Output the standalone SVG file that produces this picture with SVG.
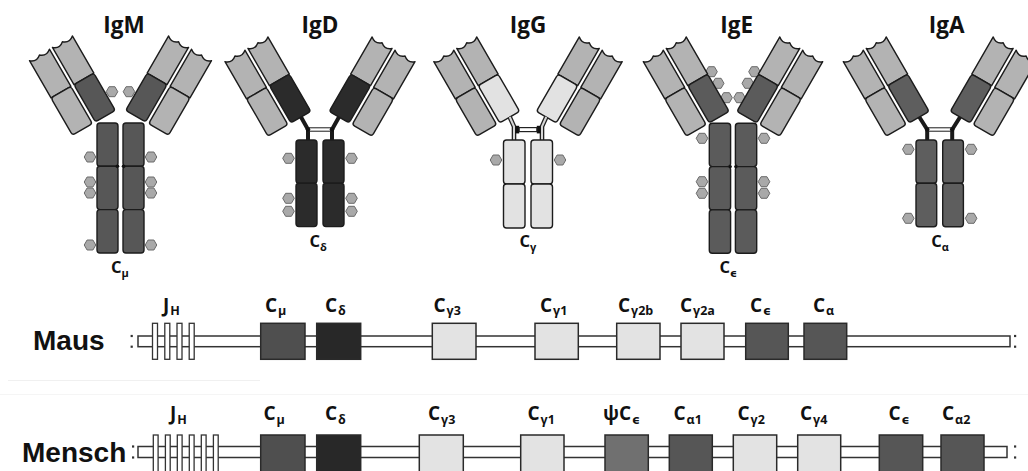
<svg xmlns="http://www.w3.org/2000/svg" xmlns:xlink="http://www.w3.org/1999/xlink" width="1028" height="471" viewBox="0 0 1028 471">
<style>
.d{stroke:#1c1c1c;stroke-width:1.4;stroke-linejoin:round}
.lt{fill:#b3b3b3}
.hx{fill:#a9a9a9;stroke:#6a6a6a;stroke-width:1}
.t{font-family:"Open Sans","DejaVu Sans",sans-serif;font-weight:700;fill:#111}
.ttl{font-size:22.5px;text-anchor:middle}
.ab{font-size:16.5px}
.ab .s{font-size:11px}
.gl{font-size:19px}
.gl .s{font-size:12.5px}
.sp{font-family:"Liberation Sans",Arial,sans-serif;font-weight:700;font-size:28px;fill:#111}
.chr{fill:#fff;stroke:#333;stroke-width:1.5}
.ex{fill:#fff;stroke:#333;stroke-width:1.3}
.gb{stroke:#2a2a2a;stroke-width:1.5}
.dot{fill:#333}
.sd{fill:#111}
</style>
<defs>
  <!-- glycan hexagon -->
  <path id="hx" class="hx" d="M-5.8,0 L-2.9,-5 L2.9,-5 L5.8,0 L2.9,5 L-2.9,5 Z"/>
  <!-- Fab arm, drawn upright: light chain (outer) and heavy chain (inner); CH1 fill comes from the <use> -->
  <g id="arm">
    <path class="d lt" d="M0,0 Q5.75,5 11.5,0 Q17.25,5 23,0 L23,43 L0,43 Z"/>
    <rect class="d lt" x="0" y="43" width="23" height="43" rx="3"/>
    <path class="d lt" d="M26.5,0 Q32.25,5 38,0 Q43.75,5 49.5,0 L49.5,43 L26.5,43 Z"/>
    <rect class="d" x="26.5" y="43" width="23" height="43" rx="3"/>
  </g>

  <!-- left halves of each isotype (mirrored for the right side) -->
  <g id="igm-half" fill="#575757">
    <use xlink:href="#hx" x="-8.5" y="91.7"/>
    <use xlink:href="#arm" transform="translate(-91,60.7) rotate(-30)"/>
    <use xlink:href="#hx" x="-30.5" y="157"/>
    <use xlink:href="#hx" x="-30.5" y="182"/>
    <use xlink:href="#hx" x="-30.5" y="193"/>
    <use xlink:href="#hx" x="-30.5" y="245"/>
    <rect class="d" x="-23.5" y="123" width="21" height="43.3" rx="3"/>
    <rect class="d" x="-23.5" y="166.3" width="21" height="43.3" rx="3"/>
    <rect class="d" x="-23.5" y="209.6" width="21" height="43.4" rx="3"/>
    <circle class="sd" cx="-3" cy="166.3" r="1.8"/>
  </g>

  <g id="igd-half" fill="#2b2b2b">
    <use xlink:href="#arm" transform="translate(-95,61.7) rotate(-30)"/>
    <path d="M-19,117 L-12,129.5 L-12,141" fill="none" stroke="#1a1a1a" stroke-width="4"/>
    <use xlink:href="#hx" x="-31.5" y="158.3"/>
    <use xlink:href="#hx" x="-31.5" y="198.3"/>
    <use xlink:href="#hx" x="-31.5" y="211.3"/>
    <rect class="d" x="-24" y="140" width="21" height="43.3" rx="3"/>
    <rect class="d" x="-24" y="183.3" width="21" height="43.3" rx="3"/>
  </g>

  <g id="igg-half" fill="#e2e2e2">
    <use xlink:href="#arm" transform="translate(-94.2,61.7) rotate(-30)"/>
    <path d="M-18.3,117 L-14,126.5 L-14,141" fill="none" stroke="#222" stroke-width="4.6"/>
    <path d="M-18.3,117 L-14,126.5 L-14,141" fill="none" stroke="#d6d6d6" stroke-width="2"/>
    <rect x="-12.6" y="125.8" width="3.8" height="7.6" fill="#111"/>
    <use xlink:href="#hx" x="-32" y="160"/>
    <rect class="d" x="-24.5" y="140" width="21.5" height="44" rx="3"/>
    <rect class="d" x="-24.5" y="184" width="21.5" height="44" rx="3"/>
  </g>

  <g id="ige-half" fill="#5b5b5b">
    <use xlink:href="#hx" x="-21.5" y="71.7"/>
    <use xlink:href="#hx" x="-14.8" y="83.3"/>
    <use xlink:href="#hx" x="-6.5" y="97.7"/>
    <use xlink:href="#arm" transform="translate(-89.7,61.7) rotate(-30)"/>
    <use xlink:href="#hx" x="-31" y="138.3"/>
    <use xlink:href="#hx" x="-31" y="181.7"/>
    <use xlink:href="#hx" x="-31" y="193.3"/>
    <rect class="d" x="-23.7" y="123.3" width="21.3" height="43.3" rx="3"/>
    <rect class="d" x="-23.7" y="166.6" width="21.3" height="43.3" rx="3"/>
    <rect class="d" x="-23.7" y="209.9" width="21.3" height="43.4" rx="3"/>
    <circle class="sd" cx="-2.7" cy="166.6" r="1.6"/>
  </g>

  <g id="iga-half" fill="#5e5e5e">
    <use xlink:href="#arm" transform="translate(-96.4,61.7) rotate(-30)"/>
    <path d="M-20.4,117 L-12.5,129.5 L-12.5,141" fill="none" stroke="#1a1a1a" stroke-width="4"/>
    <use xlink:href="#hx" x="-31.4" y="149.3"/>
    <use xlink:href="#hx" x="-31.4" y="218.3"/>
    <rect class="d" x="-23.7" y="140" width="20.7" height="43.3" rx="3"/>
    <rect class="d" x="-23.7" y="183.3" width="20.7" height="43.4" rx="3"/>
  </g>
</defs>

<rect width="1028" height="471" fill="#fff"/>

<!-- ===== antibody isotypes ===== -->
<g id="IgM" transform="translate(120.5,0)">
  <text class="t ttl" x="3.5" y="33">IgM</text>
  <use xlink:href="#igm-half"/>
  <use xlink:href="#igm-half" transform="scale(-1,1)"/>
  <text class="t ab" x="-9.5" y="273">C<tspan class="s" dy="4">μ</tspan></text>
</g>

<g id="IgD" transform="translate(320,0)">
  <text class="t ttl" x="0" y="33">IgD</text>
  <use xlink:href="#igd-half"/>
  <use xlink:href="#igd-half" transform="scale(-1,1)"/>
  <rect x="-12" y="127.8" width="24" height="3.4" fill="#fff" stroke="#1a1a1a" stroke-width="1"/>
  <circle cx="-12" cy="129.5" r="2.3" fill="#111"/>
  <circle cx="12" cy="129.5" r="2.3" fill="#111"/>
  <text class="t ab" x="-10.5" y="247">C<tspan class="s" dy="4">δ</tspan></text>
</g>

<g id="IgG" transform="translate(528,0)">
  <text class="t ttl" x="0" y="33">IgG</text>
  <use xlink:href="#igg-half"/>
  <use xlink:href="#igg-half" transform="scale(-1,1)"/>
  <rect x="-8.8" y="127.6" width="17.6" height="4" fill="#fff" stroke="#222" stroke-width="1.2"/>
  <text class="t ab" x="-8.5" y="247">C<tspan class="s" dy="4">γ</tspan></text>
</g>

<g id="IgE" transform="translate(733,0)">
  <text class="t ttl" x="3.7" y="33">IgE</text>
  <use xlink:href="#ige-half"/>
  <use xlink:href="#ige-half" transform="scale(-1,1)"/>
  <text class="t ab" x="-13.5" y="273">C<tspan class="s" dy="4">ϵ</tspan></text>
</g>

<g id="IgA" transform="translate(939.7,0)">
  <text class="t ttl" x="7" y="33">IgA</text>
  <use xlink:href="#iga-half"/>
  <use xlink:href="#iga-half" transform="scale(-1,1)"/>
  <rect x="-12.5" y="127.8" width="25" height="3.4" fill="#fff" stroke="#1a1a1a" stroke-width="1"/>
  <circle cx="-12.5" cy="129.5" r="2.3" fill="#111"/>
  <circle cx="12.5" cy="129.5" r="2.3" fill="#111"/>
  <text class="t ab" x="-8.5" y="247">C<tspan class="s" dy="4">α</tspan></text>
</g>

<!-- faint separator lines between the two loci -->
<line x1="8" y1="380.5" x2="260" y2="380.5" stroke="#f0f0f0" stroke-width="1"/>
<line x1="0" y1="394.5" x2="1028" y2="394.5" stroke="#f5f5f5" stroke-width="1"/>

<!-- ===== heavy chain loci: DNA strands ===== -->
<g id="connectors">
  <rect class="chr" x="138" y="336" width="872" height="10.7"/>
  <rect class="dot" x="130.6" y="334.9" width="2.2" height="2.2"/>
  <rect class="dot" x="130.6" y="345.6" width="2.2" height="2.2"/>
  <rect class="dot" x="1014" y="334.9" width="2.2" height="2.2"/>
  <rect class="dot" x="1014" y="345.6" width="2.2" height="2.2"/>

  <rect class="chr" x="138" y="446.5" width="869" height="11"/>
  <rect class="dot" x="132" y="445.4" width="2.2" height="2.2"/>
  <rect class="dot" x="132" y="456.4" width="2.2" height="2.2"/>
  <rect class="dot" x="1014" y="445.4" width="2.2" height="2.2"/>
  <rect class="dot" x="1014" y="456.4" width="2.2" height="2.2"/>
</g>

<!-- ===== mouse locus ===== -->
<g id="maus">
  <text class="sp" x="33" y="349.5">Maus</text>
  <g id="maus-jh">
    <rect class="ex" x="152.5" y="323.3" width="5" height="36"/>
    <rect class="ex" x="164.8" y="323.3" width="5" height="36"/>
    <rect class="ex" x="177" y="323.3" width="5" height="36"/>
    <rect class="ex" x="189.2" y="323.3" width="5" height="36"/>
    <text class="t gl" x="163" y="312">J<tspan class="s" dx="1" dy="3">H</tspan></text>
  </g>
  <g id="maus-cmu"><rect class="gb" x="260.7" y="323.3" width="44.3" height="36" fill="#4f4f4f"/>
    <text class="t gl" x="265" y="312">C<tspan class="s" dx="1" dy="3">μ</tspan></text></g>
  <g id="maus-cdelta"><rect class="gb" x="316.7" y="323.3" width="44" height="36" fill="#282828"/>
    <text class="t gl" x="325" y="312">C<tspan class="s" dx="1" dy="3">δ</tspan></text></g>
  <g id="maus-cg3"><rect class="gb" x="432.3" y="323.3" width="43.7" height="36" fill="#e3e3e3"/>
    <text class="t gl" x="433.5" y="312">C<tspan class="s" dx="1" dy="3">γ3</tspan></text></g>
  <g id="maus-cg1"><rect class="gb" x="535" y="323.3" width="43.3" height="36" fill="#e3e3e3"/>
    <text class="t gl" x="540" y="312">C<tspan class="s" dx="1" dy="3">γ1</tspan></text></g>
  <g id="maus-cg2b"><rect class="gb" x="616.7" y="323.3" width="43.3" height="36" fill="#e3e3e3"/>
    <text class="t gl" x="618" y="312">C<tspan class="s" dx="1" dy="3">γ2b</tspan></text></g>
  <g id="maus-cg2a"><rect class="gb" x="681" y="323.3" width="43" height="36" fill="#e3e3e3"/>
    <text class="t gl" x="680" y="312">C<tspan class="s" dx="1" dy="3">γ2a</tspan></text></g>
  <g id="maus-ceps"><rect class="gb" x="745.7" y="323.3" width="42.6" height="36" fill="#565656"/>
    <text class="t gl" x="750" y="312">C<tspan class="s" dx="1" dy="3">ϵ</tspan></text></g>
  <g id="maus-calpha"><rect class="gb" x="804" y="323.3" width="42.7" height="36" fill="#565656"/>
    <text class="t gl" x="813" y="312">C<tspan class="s" dx="1" dy="3">α</tspan></text></g>
</g>

<!-- ===== human locus ===== -->
<g id="mensch">
  <text class="sp" x="22" y="461.5">Mensch</text>
  <g id="mensch-jh">
    <rect class="ex" x="153.3" y="435" width="4.8" height="37"/>
    <rect class="ex" x="165.4" y="435" width="4.8" height="37"/>
    <rect class="ex" x="177.3" y="435" width="4.8" height="37"/>
    <rect class="ex" x="189.3" y="435" width="4.8" height="37"/>
    <rect class="ex" x="201.3" y="435" width="4.8" height="37"/>
    <rect class="ex" x="213.4" y="435" width="4.8" height="37"/>
    <text class="t gl" x="170" y="420">J<tspan class="s" dx="1" dy="3.5">H</tspan></text>
  </g>
  <g id="mensch-cmu"><rect class="gb" x="260.7" y="435" width="44.3" height="37" fill="#4f4f4f"/>
    <text class="t gl" x="263.5" y="420">C<tspan class="s" dx="1" dy="3.5">μ</tspan></text></g>
  <g id="mensch-cdelta"><rect class="gb" x="316.7" y="435" width="44" height="37" fill="#282828"/>
    <text class="t gl" x="325" y="420">C<tspan class="s" dx="1" dy="3.5">δ</tspan></text></g>
  <g id="mensch-cg3"><rect class="gb" x="419.3" y="435" width="44" height="37" fill="#e3e3e3"/>
    <text class="t gl" x="428" y="420">C<tspan class="s" dx="1" dy="3.5">γ3</tspan></text></g>
  <g id="mensch-cg1"><rect class="gb" x="520.7" y="435" width="43.3" height="37" fill="#e3e3e3"/>
    <text class="t gl" x="527.5" y="420">C<tspan class="s" dx="1" dy="3.5">γ1</tspan></text></g>
  <g id="mensch-psiceps"><rect class="gb" x="605" y="435" width="43.3" height="37" fill="#707070"/>
    <text class="t gl" x="603" y="420">ψC<tspan class="s" dx="1" dy="3.5">ϵ</tspan></text></g>
  <g id="mensch-calpha1"><rect class="gb" x="669.3" y="435" width="43" height="37" fill="#565656"/>
    <text class="t gl" x="673.5" y="420">C<tspan class="s" dx="1" dy="3.5">α1</tspan></text></g>
  <g id="mensch-cg2"><rect class="gb" x="733.3" y="435" width="43.4" height="37" fill="#e3e3e3"/>
    <text class="t gl" x="737.5" y="420">C<tspan class="s" dx="1" dy="3.5">γ2</tspan></text></g>
  <g id="mensch-cg4"><rect class="gb" x="797.7" y="435" width="43" height="37" fill="#e3e3e3"/>
    <text class="t gl" x="800" y="420">C<tspan class="s" dx="1" dy="3.5">γ4</tspan></text></g>
  <g id="mensch-ceps"><rect class="gb" x="879.3" y="435" width="43.4" height="37" fill="#565656"/>
    <text class="t gl" x="888.5" y="420">C<tspan class="s" dx="1" dy="3.5">ϵ</tspan></text></g>
  <g id="mensch-calpha2"><rect class="gb" x="941" y="435" width="43" height="37" fill="#565656"/>
    <text class="t gl" x="942" y="420">C<tspan class="s" dx="1" dy="3.5">α2</tspan></text></g>
</g>
</svg>
